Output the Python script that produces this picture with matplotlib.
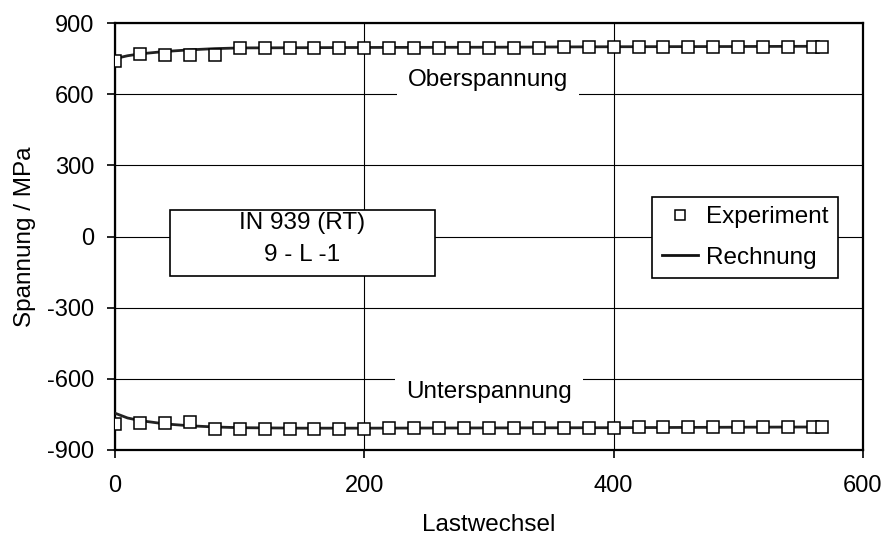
import matplotlib
matplotlib.use("Agg")
import matplotlib.pyplot as plt
from matplotlib.patches import Rectangle

plt.rcParams['font.family'] = ['Liberation Sans', 'DejaVu Sans']
plt.rcParams['axes.unicode_minus'] = False

# Experiment data
exp_x = [0, 20, 40, 60, 80, 100, 120, 140, 160, 180, 200, 220, 240, 260, 280,
         300, 320, 340, 360, 380, 400, 420, 440, 460, 480, 500, 520, 540, 560, 567]
exp_upper = [738, 770, 767, 767, 767, 793, 794, 794, 794, 794, 793, 794, 795, 795, 796,
             796, 796, 796, 797, 797, 797, 797, 798, 798, 799, 799, 800, 800, 801, 801]
exp_lower = [-789, -785, -785, -782, -813, -810, -810, -810, -810, -811, -810, -809, -809, -808, -808,
             -808, -807, -807, -806, -806, -806, -805, -805, -804, -804, -803, -803, -802, -802, -802]

# Calculation (Rechnung)
calc_x = [0, 10, 20, 40, 60, 80, 100, 150, 200, 300, 400, 500, 567]
calc_upper = [750, 762, 770, 780, 787, 792, 795, 796, 797, 798, 800, 801, 802]
calc_lower = [-745, -765, -776, -790, -798, -803, -806, -808, -808, -807, -806, -804, -803]

xticks = [0, 200, 400, 600]
yticks = [-900, -600, -300, 0, 300, 600, 900]

fig = plt.figure(figsize=(8.85, 5.38), dpi=100)
ax = fig.add_axes([0.130, 0.1636, 0.845, 0.7936])

ax.set_xlim(0, 600)
ax.set_ylim(-900, 900)
ax.set_xticks(xticks)
ax.set_yticks(yticks)
ax.grid(True, color='black', linewidth=0.8, zorder=0)
ax.set_axisbelow(True)

for s in ax.spines.values():
    s.set_color('black')
    s.set_linewidth(1.6)
ax.tick_params(direction='out', length=6, width=1.2, labelsize=17, colors='black')
ax.tick_params(axis='x', pad=12)
ax.tick_params(axis='y', pad=9)

ax.set_xlabel('Lastwechsel', fontsize=17.5, labelpad=12)
ax.set_ylabel('Spannung / MPa', fontsize=17.5, labelpad=8)

line_kw = dict(color='#222222', linewidth=2.0, zorder=3)
mk_kw = dict(linestyle='none', marker='s', markersize=9, markerfacecolor='white',
             markeredgecolor='black', markeredgewidth=1.1, zorder=4)

ax.plot(calc_x, calc_upper, **line_kw)
ax.plot(calc_x, calc_lower, **line_kw)
hexp, = ax.plot(exp_x, exp_upper, label='Experiment', **mk_kw)
ax.plot(exp_x, exp_lower, **mk_kw)
hcalc, = ax.plot([], [], label='Rechnung', color='#111111', linewidth=2.0)

txt_bbox = dict(facecolor='white', edgecolor='none', boxstyle='square,pad=0.45')
ax.text(299, 660, 'Oberspannung', fontsize=17.5, ha='center', va='center',
        bbox=txt_bbox, zorder=2)
ax.text(300, -656, 'Unterspannung', fontsize=17.5, ha='center', va='center',
        bbox=txt_bbox, zorder=2)

# sample box
rect = Rectangle((0.0735, 0.408), 0.354, 0.155, transform=ax.transAxes,
                 facecolor='white', edgecolor='black', linewidth=1.2, zorder=2)
ax.add_patch(rect)
ax.text(150, 55, 'IN 939 (RT)', fontsize=17.5, ha='center', va='center', zorder=3)
ax.text(150, -76, '9 - L -1', fontsize=17.5, ha='center', va='center', zorder=3)

leg = ax.legend(handles=[hexp, hcalc], loc='center', bbox_to_anchor=(0.8425, 0.4977),
                fontsize=17.5, frameon=True, fancybox=False, edgecolor='black',
                framealpha=1, borderpad=0.4, labelspacing=0.75, handlelength=1.5,
                handletextpad=0.3, markerscale=0.8, borderaxespad=0)
leg.get_frame().set_linewidth(1.2)
leg.set_zorder(5)

fig.savefig('out.png', dpi=100)
